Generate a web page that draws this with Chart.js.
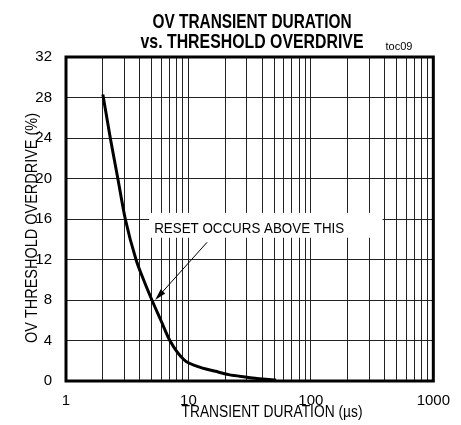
<!DOCTYPE html>
<html>
<head>
<meta charset="utf-8">
<script src="https://cdn.jsdelivr.net/npm/chart.js@4/dist/chart.umd.min.js"></script>
<style>
  html, body { margin: 0; padding: 0; background: #fff; }
  canvas { display: block; }
</style>
</head>
<body>
<canvas id="grafico" width="461" height="425"></canvas>
<script>
// ==============================
// DADOS
// ==============================
const duracao = [2, 2.3, 2.65, 3.05, 3.73, 4.3, 5.03, 5.95, 7.05, 9.2, 11.8, 16.6, 21.3, 29, 40, 52];
const sobretensao = [28.3, 24, 20, 16, 12, 10, 8, 6, 4, 2.1, 1.45, 0.96, 0.63, 0.4, 0.2, 0.1];

const xGrade = [1, 2, 3, 4, 5, 6, 7, 8, 9, 10, 20, 30, 40, 50, 60, 70, 80, 90,
  100, 200, 300, 400, 500, 600, 700, 800, 900, 1000];
const xRotulos = [1, 10, 100, 1000];

const titulo = ["OV TRANSIENT DURATION", "vs. THRESHOLD OVERDRIVE"];
const tituloX = "TRANSIENT DURATION (\u00b5s)";
const tituloY = "OV THRESHOLD OVERDRIVE (%)";
const codigo = "toc09";

// nota e seta, em coordenadas de dados
const nota = { texto: "RESET OCCURS ABOVE THIS", x0: 4.78, x1: 385, y0: 16.6, y1: 14.15 };
const seta = { deX: 14.2, deY: 13.7, paraX: 5.35, paraY: 8.0 };

const FONTE = "'Liberation Sans', Arial, sans-serif";
Chart.defaults.font.family = FONTE;
Chart.defaults.color = "#000";

// ==============================
// PLUGIN - MOLDURA, NOTA, TEXTOS
// ==============================
const extras = {
  id: "extras",
  beforeDatasetsDraw(chart) {
    const { ctx, chartArea: a, scales: { x, y } } = chart;
    // caixa branca da nota
    const bx0 = x.getPixelForValue(nota.x0), bx1 = x.getPixelForValue(nota.x1);
    const by0 = y.getPixelForValue(nota.y0), by1 = y.getPixelForValue(nota.y1);
    ctx.save();
    ctx.fillStyle = "#fff";
    ctx.fillRect(bx0, by0, bx1 - bx0, by1 - by0);
    ctx.fillStyle = "#000";
    ctx.font = "15px " + FONTE;
    ctx.textAlign = "left";
    ctx.textBaseline = "alphabetic";
    ctx.fillText(nota.texto, bx0 + 5, by1 - 5, 190);
    // moldura
    ctx.lineWidth = 3;
    ctx.strokeStyle = "#000";
    ctx.strokeRect(a.left, a.top, a.right - a.left, a.bottom - a.top);
    ctx.restore();
  },
  afterDraw(chart) {
    const { ctx, scales: { x, y } } = chart;
    ctx.save();
    // seta
    const x0 = x.getPixelForValue(seta.deX), y0 = y.getPixelForValue(seta.deY);
    const x1 = x.getPixelForValue(seta.paraX), y1 = y.getPixelForValue(seta.paraY);
    const ang = Math.atan2(y1 - y0, x1 - x0);
    ctx.strokeStyle = "#000";
    ctx.lineWidth = 1;
    ctx.beginPath();
    ctx.moveTo(x0, y0);
    ctx.lineTo(x1 - 8 * Math.cos(ang), y1 - 8 * Math.sin(ang));
    ctx.stroke();
    ctx.fillStyle = "#000";
    ctx.beginPath();
    ctx.moveTo(x1, y1);
    ctx.lineTo(x1 - 12 * Math.cos(ang - 0.26), y1 - 12 * Math.sin(ang - 0.26));
    ctx.lineTo(x1 - 12 * Math.cos(ang + 0.26), y1 - 12 * Math.sin(ang + 0.26));
    ctx.closePath();
    ctx.fill();

    // titulo (fonte estreita: comprimida com maxWidth)
    ctx.textAlign = "center";
    ctx.textBaseline = "alphabetic";
    ctx.font = "bold 21px " + FONTE;
    ctx.fillText(titulo[0], 252, 28, 199);
    ctx.fillText(titulo[1], 252, 48, 223);
    ctx.font = "11px " + FONTE;
    ctx.fillText(codigo, 399, 50, 27);

    // titulos dos eixos
    ctx.font = "16px " + FONTE;
    ctx.fillText(tituloX, 272, 417, 181);
    ctx.translate(37, 228);
    ctx.rotate(-Math.PI / 2);
    ctx.fillText(tituloY, 0, 0, 230);
    ctx.restore();
  }
};

// ==============================
// GRÁFICO
// ==============================
new Chart(document.getElementById("grafico"), {
  type: "line",
  data: {
    datasets: [{
      data: duracao.map((d, i) => ({ x: d, y: sobretensao[i] })),
      borderColor: "#000",
      borderWidth: 3,
      pointRadius: 0,
      fill: false,
      cubicInterpolationMode: "monotone"
    }]
  },
  options: {
    responsive: false,
    animation: false,
    layout: { padding: { top: 57, right: 26, left: 0, bottom: 0 } },
    plugins: { legend: { display: false }, tooltip: { enabled: false }, title: { display: false } },
    scales: {
      x: {
        type: "logarithmic",
        min: 1,
        max: 1000,
        afterBuildTicks: s => { s.ticks = xGrade.map(v => ({ value: v })); },
        afterFit: s => { s.height = 44; },
        ticks: {
          autoSkip: false,
          maxRotation: 0,
          padding: 11,
          font: { size: 15 },
          callback: v => xRotulos.includes(v) ? String(v) : ""
        },
        grid: { color: "#222", lineWidth: 1, drawTicks: false },
        border: { display: false }
      },
      y: {
        min: 0,
        max: 32,
        afterFit: s => { s.width = 66; },
        ticks: { stepSize: 4, padding: 14, font: { size: 15 } },
        grid: { color: "#222", lineWidth: 1, drawTicks: false },
        border: { display: false }
      }
    }
  },
  plugins: [extras]
});
</script>
</body>
</html>
